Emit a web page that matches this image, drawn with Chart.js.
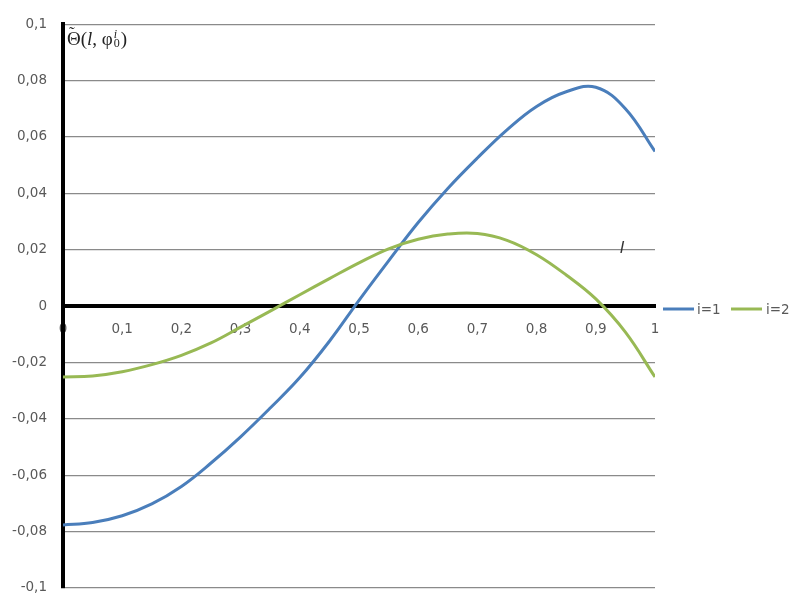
<!DOCTYPE html>
<html>
<head>
<meta charset="utf-8">
<script src="https://cdn.jsdelivr.net/npm/chart.js@4/dist/chart.umd.min.js"></script>
<style>
  html, body { margin: 0; padding: 0; background: #fff; width: 789px; height: 601px; overflow: hidden; }
  #wrap { position: relative; width: 789px; height: 612px; }
  canvas { position: absolute; left: 0; top: 0; }
  #ytitle { position: absolute; left: 67px; top: 28px; font-family: "Liberation Serif", "DejaVu Serif", serif; font-size: 19px; color: #222; white-space: nowrap; }
  #ytitle .th { position: relative; display: inline-block; }
  #ytitle .th .t { position: absolute; left: 2px; top: -4px; font-size: 17px; line-height: 17px; }
  #ytitle .ss { display: inline-flex; flex-direction: column; font-size: 12px; line-height: 9px; vertical-align: 7px; margin-left: 1px; margin-right: 1px; }
  #xtitle { position: absolute; left: 620px; top: 238px; font-family: "Liberation Sans", sans-serif; font-style: italic; font-size: 17px; color: #333; }
</style>
</head>
<body>
<div id="wrap">
  <canvas id="c" width="789" height="612"></canvas>
  <div id="ytitle"><span class="th">Θ<span class="t">˜</span></span>(<i>l</i>, φ<span class="ss"><span><i>i</i></span><span>0</span></span>)</div>
  <div id="xtitle">l</div>
</div>
<script>
// ---- data ----
const xValues = [0, 0.05, 0.1, 0.15, 0.2, 0.25, 0.3, 0.35, 0.4, 0.45, 0.5,
                 0.55, 0.6, 0.65, 0.7, 0.75, 0.8, 0.85, 0.9, 0.95, 1];
const seriesNames = ["i=1", "i=2"];
const series1 = [-0.0777, -0.0768, -0.0744, -0.0702, -0.0640, -0.0557, -0.0464, -0.0362,
                 -0.0254, -0.0125, 0.0020, 0.0160, 0.0296, 0.0417, 0.0525, 0.0625,
                 0.0708, 0.0760, 0.0776, 0.0700, 0.0548];
const series2 = [-0.0252, -0.0248, -0.0233, -0.0208, -0.0175, -0.0131, -0.0075, -0.0018,
                 0.0040, 0.0097, 0.0153, 0.0203, 0.0237, 0.0255, 0.0257, 0.0233,
                 0.0182, 0.0110, 0.0025, -0.0093, -0.0252];
const yTicks = [-0.1, -0.08, -0.06, -0.04, -0.02, 0, 0.02, 0.04, 0.06, 0.08, 0.1];
const xTicks = [0, 0.1, 0.2, 0.3, 0.4, 0.5, 0.6, 0.7, 0.8, 0.9, 1];

const colors = ["#4A7EBB", "#98B954"];
const fmt = v => String(Math.round(v * 100) / 100).replace('.', ',');

const toPoints = ys => xValues.map((x, i) => ({ x: x, y: ys[i] }));

const legendPlugin = {
  id: 'inlineLegend',
  afterDraw(chart) {
    const ctx = chart.ctx;
    const y = 309;
    const items = [{ x0: 663, x1: 694, tx: 697 }, { x0: 731, x1: 762, tx: 766 }];
    ctx.save();
    chart.data.datasets.forEach((ds, i) => {
      const it = items[i];
      ctx.strokeStyle = ds.borderColor;
      ctx.lineWidth = 3;
      ctx.beginPath();
      ctx.moveTo(it.x0, y);
      ctx.lineTo(it.x1, y);
      ctx.stroke();
      ctx.fillStyle = '#595959';
      ctx.font = '13.5px "DejaVu Sans", sans-serif';
      ctx.textBaseline = 'middle';
      ctx.textAlign = 'left';
      ctx.fillText(ds.label, it.tx, y + 1);
    });
    ctx.restore();
  }
};

new Chart(document.getElementById('c'), {
  type: 'line',
  data: {
    datasets: [
      { label: seriesNames[0], data: toPoints(series1), borderColor: colors[0], borderWidth: 3,
        pointRadius: 0, tension: 0.4, fill: false, order: 2 },
      { label: seriesNames[1], data: toPoints(series2), borderColor: colors[1], borderWidth: 3,
        pointRadius: 0, tension: 0.4, fill: false, order: 1 }
    ]
  },
  options: {
    responsive: false,
    animation: false,
    devicePixelRatio: 1,
    layout: { padding: { left: 0, right: 134, top: 22, bottom: 16 } },
    plugins: { legend: { display: false }, tooltip: { enabled: false } },
    scales: {
      x: {
        type: 'linear',
        min: 0, max: 1,
        position: { y: 0 },
        afterBuildTicks: s => { s.ticks = xTicks.map(v => ({ value: v })); },
        ticks: {
          callback: v => fmt(v),
          color: '#595959',
          font: { family: '"DejaVu Sans", sans-serif', size: 13.5 },
          padding: 15,
          maxRotation: 0,
          autoSkip: false
        },
        grid: { display: false, drawTicks: false },
        border: { display: true, color: '#000', width: 4 }
      },
      y: {
        type: 'linear',
        min: -0.1, max: 0.1,
        position: 'left',
        afterBuildTicks: s => { s.ticks = yTicks.map(v => ({ value: v })); },
        afterFit: s => { s.width = 63; },
        ticks: {
          callback: v => fmt(v),
          color: '#595959',
          font: { family: '"DejaVu Sans", sans-serif', size: 13.5 },
          padding: 16
        },
        grid: { color: '#8a8a8a', lineWidth: 1.2, drawTicks: false },
        border: { display: true, color: '#000', width: 4 }
      }
    }
  },
  plugins: [legendPlugin]
});
</script>
</body>
</html>
